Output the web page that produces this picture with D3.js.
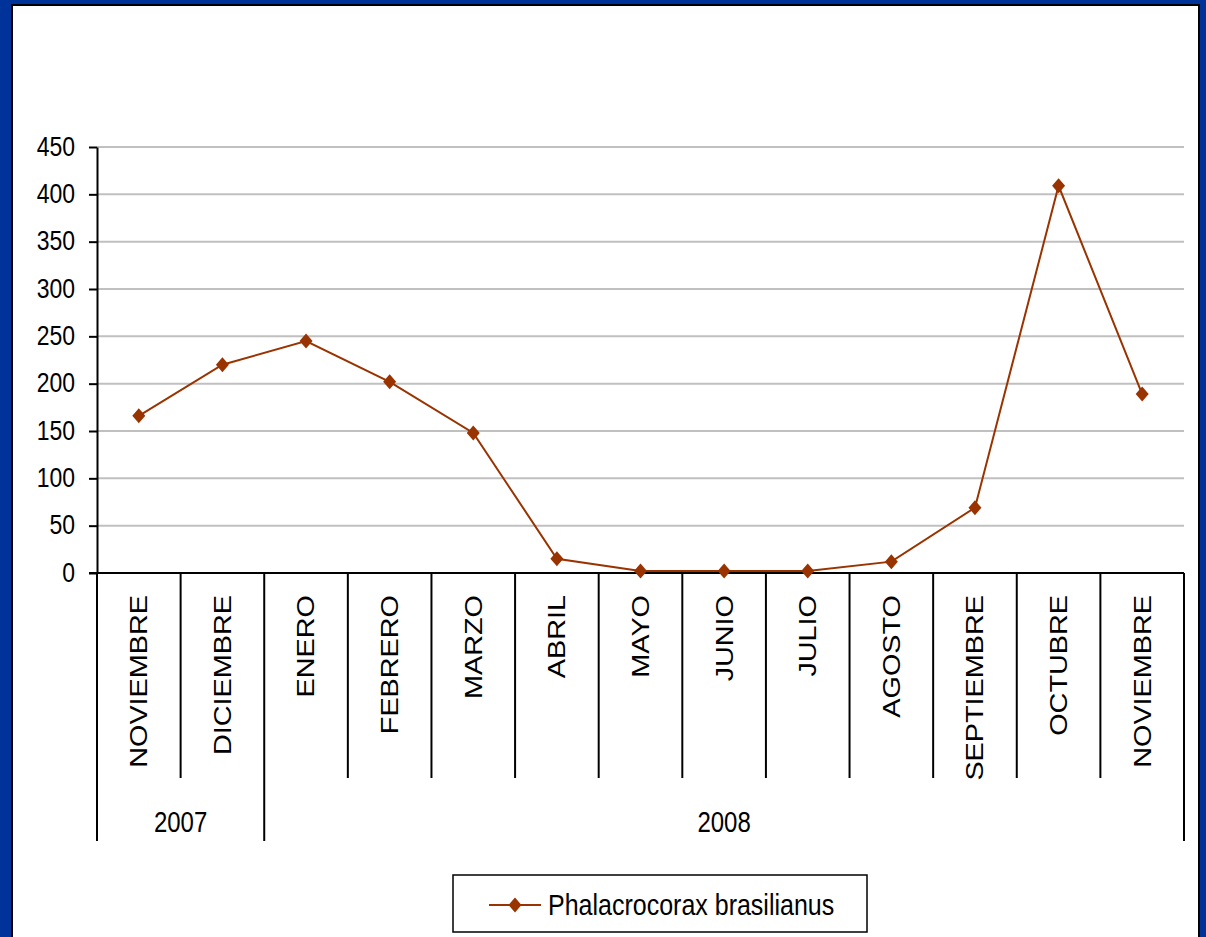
<!DOCTYPE html>
<html>
<head>
<meta charset="utf-8">
<script src="https://cdn.jsdelivr.net/npm/d3@7"></script>
<style>
  html, body { margin: 0; padding: 0; background: #003399; }
  svg { display: block; }
  text { font-family: "Liberation Sans", Arial, sans-serif; fill: #000; }
</style>
</head>
<body>
<svg id="chart" width="1206" height="937"></svg>
<script>
// Monthly counts of Phalacrocorax brasilianus, Nov 2007 – Nov 2008
const months = ["NOVIEMBRE", "DICIEMBRE", "ENERO", "FEBRERO", "MARZO", "ABRIL", "MAYO",
                "JUNIO", "JULIO", "AGOSTO", "SEPTIEMBRE", "OCTUBRE", "NOVIEMBRE"];
const counts = [166, 220, 245, 202, 148, 15, 2, 2, 2, 12, 69, 409, 189];
const years = ["2007", "2008"];
const monthsPerYear = [2, 11];
const yTicks = [0, 50, 100, 150, 200, 250, 300, 350, 400, 450];
const seriesName = "Phalacrocorax brasilianus";

const lineColor = "#993300";
const stretch = 1.2; // vertical stretch of all lettering

const svg = d3.select("#chart");

// white panel with black frame
svg.append("rect")
  .attr("x", 0).attr("y", 0).attr("width", 1206).attr("height", 937)
  .attr("fill", "#003399");
svg.append("rect")
  .attr("x", 12).attr("y", 5).attr("width", 1187).attr("height", 945)
  .attr("fill", "#fff").attr("stroke", "#000").attr("stroke-width", 2);

const plotLeft = 97, plotRight = 1184, plotTop = 147, plotBottom = 573;

const x = d3.scaleBand().domain(d3.range(months.length)).range([plotLeft, plotRight]).padding(0);
const y = d3.scaleLinear().domain([0, 450]).range([plotBottom, plotTop]);

// gridlines
svg.append("g").selectAll("line")
  .data(yTicks.filter(d => d > 0))
  .join("line")
  .attr("x1", plotLeft).attr("x2", plotRight)
  .attr("y1", d => y(d)).attr("y2", d => y(d))
  .attr("stroke", "#c0c0c0").attr("stroke-width", 2);

// y axis
const yAxis = svg.append("g")
  .attr("transform", `translate(${plotLeft},0)`)
  .call(d3.axisLeft(y).tickValues(yTicks).tickSize(8).tickSizeOuter(0).tickPadding(0));
yAxis.select(".domain").attr("stroke", "#000").attr("stroke-width", 2);
yAxis.selectAll(".tick line").attr("stroke", "#000").attr("stroke-width", 2);
yAxis.selectAll(".tick text")
  .attr("x", 0).attr("dy", null)
  .attr("font-size", 23)
  .attr("font-family", "Liberation Sans, Arial, sans-serif")
  .attr("text-anchor", "end")
  .attr("transform", `translate(-22,8) scale(1,${stretch})`);

// x axis baseline
svg.append("line")
  .attr("x1", plotLeft - 8).attr("x2", plotRight)
  .attr("y1", plotBottom).attr("y2", plotBottom)
  .attr("stroke", "#000").attr("stroke-width", 2);

// category divider lines: year boundaries run longer
const yearEdges = new Set([0]);
let acc = 0;
monthsPerYear.forEach(n => { acc += n; yearEdges.add(acc); });
const edgeX = i => i < months.length ? x(i) : x(months.length - 1) + x.bandwidth();
svg.append("g").selectAll("line")
  .data(d3.range(months.length + 1))
  .join("line")
  .attr("x1", edgeX)
  .attr("x2", edgeX)
  .attr("y1", plotBottom)
  .attr("y2", i => yearEdges.has(i) ? 841 : 778)
  .attr("stroke", "#000").attr("stroke-width", 2);

// month labels, rotated
svg.append("g").selectAll("text")
  .data(months)
  .join("text")
  .attr("text-anchor", "end")
  .attr("dy", "0.35em")
  .attr("font-size", 24)
  .attr("transform", (d, i) => `translate(${x(i) + x.bandwidth() / 2},595) scale(1,${stretch}) rotate(-90)`)
  .text(d => d);

// year labels centred under their months
let start = 0;
const yearPos = years.map((yr, k) => {
  const s = start, e = start + monthsPerYear[k];
  start = e;
  return { yr, cx: (edgeX(s) + edgeX(e)) / 2 };
});
svg.append("g").selectAll("text")
  .data(yearPos)
  .join("text")
  .attr("text-anchor", "middle")
  .attr("font-size", 24)
  .attr("transform", d => `translate(${d.cx},832) scale(1,${stretch})`)
  .text(d => d.yr);

// series line
const line = d3.line()
  .x((d, i) => x(i) + x.bandwidth() / 2)
  .y(d => y(d));
svg.append("path")
  .datum(counts)
  .attr("d", line)
  .attr("fill", "none")
  .attr("stroke", lineColor)
  .attr("stroke-width", 2);

const diamond = "M0,-7.5L6.5,0L0,7.5L-6.5,0Z";
svg.append("g").selectAll("path")
  .data(counts)
  .join("path")
  .attr("d", diamond)
  .attr("transform", (d, i) => `translate(${x(i) + x.bandwidth() / 2},${y(d)})`)
  .attr("fill", lineColor);

// legend
const lg = svg.append("g");
lg.append("rect")
  .attr("x", 453).attr("y", 875).attr("width", 414).attr("height", 57)
  .attr("fill", "#fff").attr("stroke", "#000").attr("stroke-width", 1.5);
lg.append("line")
  .attr("x1", 489).attr("x2", 541).attr("y1", 905).attr("y2", 905)
  .attr("stroke", lineColor).attr("stroke-width", 2);
lg.append("path")
  .attr("d", diamond)
  .attr("transform", "translate(515,905)")
  .attr("fill", lineColor);
lg.append("text")
  .attr("font-size", 25)
  .attr("transform", `translate(548,915) scale(1,${stretch})`)
  .text(seriesName);
</script>
</body>
</html>
